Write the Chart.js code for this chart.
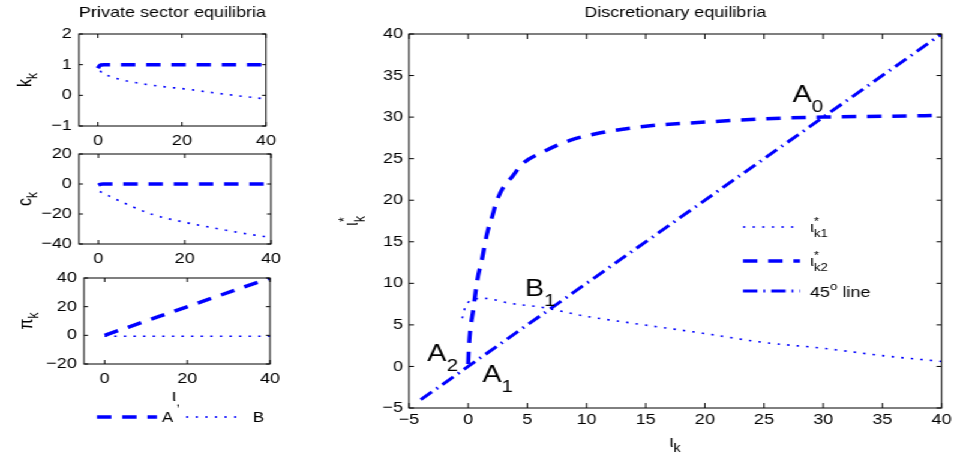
<!DOCTYPE html>
<html>
<head>
<meta charset="utf-8">
<script src="https://cdn.jsdelivr.net/npm/chart.js@4"></script>
<style>
  html, body { margin: 0; background: #fff; width: 955px; height: 459px; overflow: hidden; }
  #stage { position: absolute; left: 0; top: 0; height: 459px; transform-origin: 0 0; }
  #stage canvas { position: absolute; }
</style>
</head>
<body>
<div id="stage">
  <canvas id="kPanel"></canvas>
  <canvas id="cPanel"></canvas>
  <canvas id="piPanel"></canvas>
  <canvas id="mainPanel"></canvas>
</div>
<script>
// The original figure is stretched sideways, so the stage is drawn narrow and scaled in x.
const S = 1.2;
const FONT = '"Liberation Sans", Arial, Helvetica, sans-serif';
const BLUE = "#0000ff";

// ---- Discretionary equilibria (right) ----
const mainTicks = [-5, 0, 5, 10, 15, 20, 25, 30, 35, 40];
const k1X = [-0.5, -0.3, 0, 0.5, 1.3, 3.5, 6.3, 9.7, 13.4, 19.8, 24.9, 29.9, 35, 40];
const k1Y = [5.8, 6.9, 7.7, 8.1, 8.2, 7.6, 7.1, 6.1, 5.3, 4.0, 2.9, 2.2, 1.3, 0.6];
const k2X = [0, 0.05, 0.17, 0.42, 0.76, 1.18, 1.6, 2.0, 2.44, 2.95, 3.7, 4.6, 6.3, 8.6, 10.8, 15, 20, 25, 30, 35, 40];
const k2Y = [0.3, 2, 4.3, 6.7, 10.3, 13, 16, 17.9, 20, 21.5, 22.8, 24.4, 25.8, 27.2, 28, 28.9, 29.4, 29.8, 30, 30.1, 30.2];
const diagX = [-4, 40];
const diagY = [-4, 40];
const pointNames = ["A", "B", "A", "A"];
const pointSubs = ["0", "1", "2", "1"];
const pointX = [27.4, 4.8, -3.45, 1.2];
const pointY = [31.8, 8.5, 0.7, -1.9];

// ---- Private sector equilibria (left) ----
const sideTicks = [0, 20, 40];
const kTicks = [-1, 0, 1, 2];
const cTicks = [-40, -20, 0, 20];
const piTicks = [-20, 0, 20, 40];
const kAX = [0, 0.3, 0.7, 1.5, 40];
const kAY = [0.88, 0.95, 0.99, 1, 1];
const kBX = [0.5, 1, 3.3, 8.3, 16.4, 20, 30, 40];
const kBY = [0.8, 0.73, 0.6, 0.43, 0.27, 0.22, 0.04, -0.12];
const cAX = [0, 0.4, 1, 40];
const cAY = [-0.8, -0.2, 0, 0];
const cBX = [0.3, 6.7, 12.6, 19.5, 28, 38, 40];
const cBY = [-5, -13.6, -20.4, -25.2, -30, -34.8, -35.4];
const piAX = [0, 40];
const piAY = [0, 40];
const piBX = [0, 40];
const piBY = [-0.6, -0.6];

const DASH = { borderColor: BLUE, borderWidth: 3.5, borderDash: [12, 9] };
const DOT = { borderColor: BLUE, borderWidth: 1.6, borderDash: [2, 6] };
const DASHDOT = { borderColor: BLUE, borderWidth: 3, borderDash: [12, 5, 1.5, 5] };

document.getElementById("stage").style.width = 955 / S + "px";
document.getElementById("stage").style.transform = "scaleX(" + S + ")";

function line(xs, ys, style) {
  return Object.assign({
    data: xs.map((x, i) => ({ x, y: ys[i] })),
    pointRadius: 0, fill: false, cubicInterpolationMode: "monotone",
  }, style);
}

function axis(ticks, min, max, size, pad, fit) {
  return {
    type: "linear", min, max,
    grid: { display: false, drawTicks: false }, border: { display: false },
    ticks: {
      color: "#000", font: { family: FONT, size }, padding: pad,
      autoSkip: false, maxRotation: 0,
      callback: (v) => (v < 0 ? "\u2212" + -v : "" + v),
    },
    afterBuildTicks: (s) => { s.ticks = ticks.map((v) => ({ value: v })); },
    afterFit: fit,
  };
}

// base text with stacked super/subscript, like MATLAB tex labels
function rich(ctx, x, y, base, sup, sub, size, align) {
  const small = Math.round(size * 0.72);
  ctx.font = size + "px " + FONT;
  const wb = ctx.measureText(base).width;
  ctx.font = small + "px " + FONT;
  const ws = Math.max(sup ? ctx.measureText(sup).width : 0, sub ? ctx.measureText(sub).width : 0);
  const x0 = align === "center" ? x - (wb + ws) / 2 : x;
  ctx.textAlign = "left"; ctx.textBaseline = "alphabetic"; ctx.fillStyle = "#000";
  ctx.font = size + "px " + FONT;
  ctx.fillText(base, x0, y);
  ctx.font = small + "px " + FONT;
  if (sup) ctx.fillText(sup, x0 + wb, y - size * 0.45);
  if (sub) ctx.fillText(sub, x0 + wb, y + size * 0.32);
  return x0 + wb + ws;
}

function vlabel(ctx, x, y, base, sup, sub, size) {
  ctx.save();
  ctx.translate(x, y);
  ctx.rotate(-Math.PI / 2);
  rich(ctx, 0, size * 0.3, base, sup, sub, size, "center");
  ctx.restore();
}

function sample(ctx, x0, x1, y, style) {
  ctx.save();
  ctx.strokeStyle = style.borderColor; ctx.lineWidth = style.borderWidth;
  ctx.setLineDash(style.borderDash);
  ctx.beginPath(); ctx.moveTo(x0, y); ctx.lineTo(x1, y); ctx.stroke();
  ctx.restore();
}

// box round the axes with inward ticks on all four sides
function frame(len) {
  return {
    id: "frame",
    afterDatasetsDraw(chart) {
      const { ctx, chartArea: a, scales: { x, y } } = chart;
      ctx.save();
      ctx.strokeStyle = "#000"; ctx.lineWidth = 1; ctx.setLineDash([]);
      ctx.strokeRect(a.left, a.top, a.right - a.left, a.bottom - a.top);
      ctx.beginPath();
      x.ticks.forEach((t) => {
        const p = x.getPixelForValue(t.value);
        ctx.moveTo(p, a.bottom); ctx.lineTo(p, a.bottom - len);
        ctx.moveTo(p, a.top); ctx.lineTo(p, a.top + len);
      });
      y.ticks.forEach((t) => {
        const p = y.getPixelForValue(t.value);
        ctx.moveTo(a.left, p); ctx.lineTo(a.left + len / S, p);
        ctx.moveTo(a.right, p); ctx.lineTo(a.right - len / S, p);
      });
      ctx.stroke();
      ctx.restore();
    },
  };
}

// cv and area are given in pixels of the final (stretched) picture
function panel(id, cv, area, o) {
  const el = document.getElementById(id);
  el.width = Math.round(cv[2] / S);
  el.height = cv[3];
  el.style.left = cv[0] / S + "px";
  el.style.top = cv[1] + "px";
  el.style.width = el.width + "px";
  el.style.height = el.height + "px";
  const yw = (area[0] - cv[0]) / S;
  const padR = el.width - (area[2] - cv[0]) / S;
  const xh = cv[1] + cv[3] - area[3];
  const top = area[1] - cv[1];
  const title = o.title
    ? { display: true, text: o.title, fullSize: false, color: "#000",
        font: { family: FONT, size: 15, weight: "normal" }, padding: { top: top - 30, bottom: 12 } }
    : { display: false };
  return new Chart(el, {
    type: "line",
    data: { datasets: o.datasets },
    options: {
      responsive: false, animation: false, devicePixelRatio: 1,
      layout: { padding: { top: o.title ? 0 : top, right: padR, left: 0, bottom: 0 } },
      plugins: { legend: { display: false }, tooltip: { enabled: false }, title },
      scales: {
        x: axis(o.xTicks, o.xMin, o.xMax, o.font, o.xPad, (s) => { s.height = xh; }),
        y: axis(o.yTicks, o.yTicks[0], o.yTicks[o.yTicks.length - 1], o.font, o.yPad, (s) => { s.width = yw; }),
      },
    },
    plugins: [frame(o.tick), { id: "decor", afterDraw: (chart) => o.decor(chart.ctx, chart, cv) }],
  });
}

const cx = (absX, cv) => (absX - cv[0]) / S;

panel("kPanel", [0, 0, 330, 150], [79, 34, 266, 126], {
  title: "Private sector equilibria",
  datasets: [line(kAX, kAY, DASH), line(kBX, kBY, DOT)],
  xTicks: sideTicks, xMin: -4.5, xMax: 40, yTicks: kTicks,
  font: 15, xPad: 6, yPad: 6, tick: 4,
  decor: (ctx, ch, cv) => vlabel(ctx, cx(25, cv), (ch.chartArea.top + ch.chartArea.bottom) / 2, "k", null, "k", 16),
});

panel("cPanel", [0, 130, 330, 140], [79, 154, 271, 244], {
  datasets: [line(cAX, cAY, DASH), line(cBX, cBY, DOT)],
  xTicks: sideTicks, xMin: -4.5, xMax: 40, yTicks: cTicks,
  font: 15, xPad: 6, yPad: 6, tick: 4,
  decor: (ctx, ch, cv) => vlabel(ctx, cx(25, cv), (ch.chartArea.top + ch.chartArea.bottom) / 2, "c", null, "k", 16),
});

panel("piPanel", [0, 250, 330, 209], [84, 278, 270, 364], {
  datasets: [line(piAX, piAY, DASH), line(piBX, piBY, DOT)],
  xTicks: sideTicks, xMin: -5, xMax: 40, yTicks: piTicks,
  font: 15, xPad: 6, yPad: 6, tick: 4,
  decor: (ctx, ch, cv) => {
    const a = ch.chartArea;
    vlabel(ctx, cx(27, cv), (a.top + a.bottom) / 2, "\u03c0", null, "k", 16);
    rich(ctx, cx(176, cv), 401 - cv[1], "\u03b9", null, ",", 16, "center");
    const ly = 417 - cv[1];
    sample(ctx, cx(97, cv), cx(157, cv), ly, DASH);
    ctx.font = "14px " + FONT; ctx.fillStyle = "#000"; ctx.textBaseline = "middle";
    ctx.fillText("A", cx(162, cv), ly + 1);
    sample(ctx, cx(186, cv), cx(242, cv), ly, DOT);
    ctx.fillText("B", cx(253, cv), ly + 1);
  },
});

panel("mainPanel", [330, 0, 625, 459], [409, 34, 943, 408], {
  title: "Discretionary equilibria",
  datasets: [line(k1X, k1Y, DOT), line(k2X, k2Y, DASH), line(diagX, diagY, DASHDOT)],
  xTicks: mainTicks, xMin: -5, xMax: 40, yTicks: mainTicks,
  font: 15, xPad: 3, yPad: 5, tick: 5,
  decor: (ctx, ch, cv) => {
    const a = ch.chartArea;
    const { x, y } = ch.scales;
    vlabel(ctx, cx(352, cv), (a.top + a.bottom) / 2, "\u03b9", "*", "k", 17);
    rich(ctx, cx(675, cv), 447, "\u03b9", null, "k", 16, "center");
    // legend
    const rows = [[227, DOT, "k1"], [261, DASH, "k2"]];
    rows.forEach(([ly, st, sub]) => {
      sample(ctx, cx(743, cv), cx(800, cv), ly, st);
      rich(ctx, cx(810, cv), ly + 5, "\u03b9", "*", sub, 15);
    });
    sample(ctx, cx(743, cv), cx(800, cv), 291, DASHDOT);
    const ex = rich(ctx, cx(810, cv), 297, "45", "o", null, 15);
    ctx.font = "15px " + FONT;
    ctx.fillText(" line", ex, 297);
    // equilibrium points
    pointNames.forEach((n, i) => {
      const px = x.getPixelForValue(pointX[i]);
      const py = y.getPixelForValue(pointY[i]);
      ctx.fillStyle = "#000"; ctx.textBaseline = "alphabetic"; ctx.textAlign = "left";
      ctx.font = "24px " + FONT;
      ctx.fillText(n, px, py);
      const w = ctx.measureText(n).width;
      ctx.font = "17px " + FONT;
      ctx.fillText(pointSubs[i], px + w, py + 10);
    });
  },
});
</script>
</body>
</html>
